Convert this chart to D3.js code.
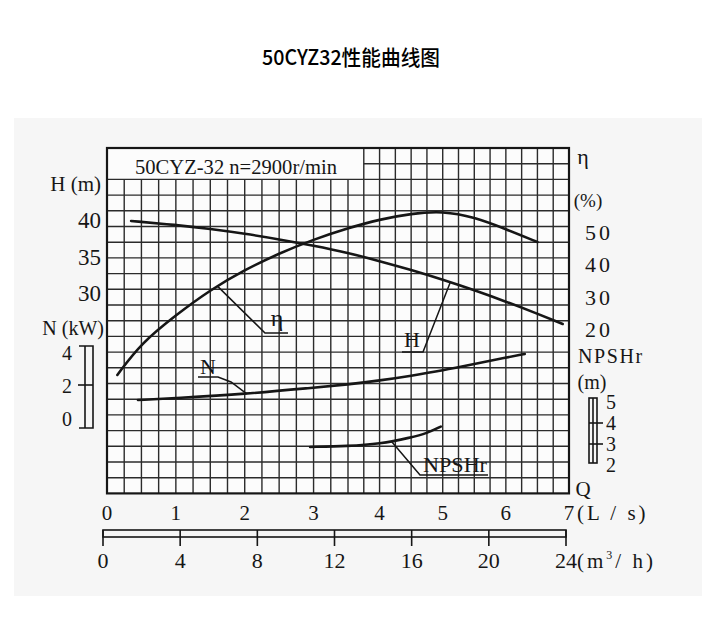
<!DOCTYPE html>
<html><head><meta charset="utf-8">
<script src="https://cdn.jsdelivr.net/npm/d3@7"></script>
<style>body{margin:0;background:#fff}svg{display:block}</style>
</head><body><svg id="c" width="718" height="630"></svg>
<script>
// ---- data ----
const flowLs = [0,1,2,3,4,5,6,7];
const flowM3h = [0,4,8,12,16,20,24];
const headTicks = [40,35,30];
const effTicks = [50,40,30,20];
const powerTicks = [4,2,0];
const npshTicks = [5,4,3,2];

const headQ = [0.35,1,1.5,2,2.5,3,3.5,4,4.5,5,5.5,6,6.5,6.9];
const headH = [39.86,39.33,38.78,38.13,37.36,36.48,35.49,34.38,33.16,31.83,30.39,28.83,27.16,25.75];

const effQ = [0.15,0.5,1,1.5,2,2.5,3,3.5,4,4.5,5,5.5,6,6.5];
const effEta = [5.8,15.7,24.3,32.1,38.3,43.4,47.7,51.2,53.9,55.7,56.5,54.6,50.9,46.9];

const powQ = [0.45,1,2,3,3.5,4,4.5,5,5.5,6,6.3];
const powN = [1.09,1.21,1.45,1.84,2.03,2.27,2.56,2.88,3.27,3.66,3.88];

const npshQ = [2.95,3.5,4,4.5,4.75,4.97];
const npshV = [2.86,2.90,3.00,3.31,3.51,3.83];

const titleText = "50CYZ32性能曲线图";
const boxText = "50CYZ-32 n=2900r/min";

// ---- layout ----
const svg = d3.select("#c");
const X0 = 107, XM = 348, X1 = 569, Y0 = 148, Y1 = 493.4;
const x = d3.scaleLinear().domain([0,3.5,7]).range([X0,XM,X1]);
const xm3 = d3.scaleLinear().domain([0,24]).range([103,566]);
const rowY = d3.scaleLinear().domain([0,22]).range([Y1,Y0]);
const yH = d3.scaleLinear().domain([30,40]).range([293,220]);
const yEta = d3.scaleLinear().domain([20,50]).range([329,232]);
const yN = d3.scaleLinear().domain([0,4]).range([418,352]);
const yNp = d3.scaleLinear().domain([2,5]).range([465,402]);
const ink = "#161616";
const serif = "'Liberation Serif','DejaVu Serif',serif";

// scanned paper backdrop
svg.append("rect").attr("x",14).attr("y",118).attr("width",688).attr("height",478).attr("fill","#f6f6f6");
svg.append("rect").attr("x",X0).attr("y",Y0).attr("width",X1-X0).attr("height",Y1-Y0).attr("fill","#fcfcfc");

// title
svg.append("text").attr("x",351).attr("y",65).attr("text-anchor","middle")
  .attr("font-family","'Noto Sans CJK SC',sans-serif").attr("font-size",21).attr("font-weight",500)
  .attr("textLength",178).attr("lengthAdjust","spacingAndGlyphs").attr("fill","#000").text(titleText);

// grid
const g = svg.append("g").attr("stroke","#2b2b2b").attr("stroke-width",1.4);
const boxCols = 15, boxRows = 20;
d3.range(1,28).forEach(i=>{
  const q = i/4;
  g.append("line").attr("x1",x(q)).attr("x2",x(q))
    .attr("y1", i < boxCols ? rowY(boxRows) : Y0).attr("y2",Y1);
});
d3.range(1,22).forEach(r=>{
  g.append("line").attr("y1",rowY(r)).attr("y2",rowY(r))
    .attr("x1", r > boxRows ? x(boxCols/4) : X0).attr("x2",X1);
});
svg.append("rect").attr("x",X0).attr("y",Y0).attr("width",X1-X0).attr("height",Y1-Y0)
  .attr("fill","none").attr("stroke",ink).attr("stroke-width",2.2);

svg.append("text").attr("x",236).attr("y",174).attr("text-anchor","middle")
  .attr("font-family",serif).attr("font-size",22).attr("textLength",202)
  .attr("lengthAdjust","spacingAndGlyphs").attr("fill",ink).text(boxText);

// curves
function drawCurve(qs, vs, ys){
  const pts = qs.map((q,i)=>[x(q), ys(vs[i])]);
  svg.append("path").attr("d", d3.line().curve(d3.curveBasis)(pts))
    .attr("fill","none").attr("stroke",ink).attr("stroke-width",2.6).attr("stroke-linecap","round");
}
drawCurve(headQ, headH, yH);
drawCurve(effQ, effEta, yEta);
drawCurve(powQ, powN, yN);
drawCurve(npshQ, npshV, yNp);

const at = (qs, vs, q) => d3.scaleLinear().domain(qs).range(vs)(q);
function leader(pts){
  svg.append("path").attr("d", d3.line()(pts)).attr("fill","none")
    .attr("stroke",ink).attr("stroke-width",1.5);
}
function label(t, lx, ly, size, anchor){
  svg.append("text").attr("x",lx).attr("y",ly).attr("text-anchor",anchor||"middle")
    .attr("font-family",serif).attr("font-size",size).attr("fill",ink).text(t);
}
// eta label
leader([[x(1.6), yEta(at(effQ,effEta,1.6))],[265,333],[288,333]]);
label("η",277,326,24);
// H label
leader([[x(5.12), yH(at(headQ,headH,5.12))],[423,352],[402,352]]);
label("H",412,347,22);
// N label
leader([[x(2.03), yN(at(powQ,powN,2.03))],[231,382],[218,377],[198,377]]);
label("N",208,374,22);
// NPSHr label
leader([[x(4.19), yNp(at(npshQ,npshV,4.19))],[420,475],[488,475]]);
svg.append("text").attr("x",455).attr("y",472).attr("text-anchor","middle")
  .attr("font-family",serif).attr("font-size",22).attr("textLength",64)
  .attr("lengthAdjust","spacingAndGlyphs").attr("fill",ink).text("NPSHr");

// left axis labels
label("H (m)",101,191,21,"end");
headTicks.forEach(v=>label(String(v),101,yH(v)+8,23,"end"));
label("N (kW)",104,335,20,"end");
powerTicks.forEach(v=>label(String(v),67,yN(v)+8,20,"middle"));
// N bracket
const nb = svg.append("g").attr("stroke",ink).attr("stroke-width",1.6).attr("fill","none");
nb.append("path").attr("d",`M79,${yN(4)-6}H93V${yN(0)+10}H79`);
nb.append("line").attr("x1",85).attr("x2",85).attr("y1",yN(4)-6).attr("y2",yN(0)+10);
nb.append("line").attr("x1",78).attr("x2",93).attr("y1",yN(2)).attr("y2",yN(2));

// right axis labels
label("η",583,164,22,"middle");
label("(%)",588,207,19,"middle");
effTicks.forEach(v=>{
  svg.append("text").attr("x",599).attr("y",yEta(v)+8).attr("text-anchor","middle")
    .attr("font-family",serif).attr("font-size",22).attr("letter-spacing",3).attr("fill",ink).text(String(v));
});
svg.append("text").attr("x",578).attr("y",363).attr("font-family",serif).attr("font-size",20)
  .attr("letter-spacing",1.6).attr("fill",ink).text("NPSHr");
label("(m)",592,389,20,"middle");
npshTicks.forEach(v=>label(String(v),611,yNp(v)+7,20,"middle"));
const pb = svg.append("g").attr("stroke",ink).attr("stroke-width",1.6).attr("fill","none");
pb.append("rect").attr("x",589).attr("y",yNp(5)-4).attr("width",8).attr("height",yNp(2)-yNp(5)+2);
pb.append("line").attr("x1",593).attr("x2",593).attr("y1",yNp(5)-4).attr("y2",yNp(2)-2);
[4,3].forEach(v=>pb.append("line").attr("x1",589).attr("x2",603).attr("y1",yNp(v)).attr("y2",yNp(v)));
label("Q",583,496,21,"middle");

// bottom axes
flowLs.forEach(v=>label(String(v),x(v),520,21,"middle"));
svg.append("text").attr("x",577).attr("y",520).attr("font-family",serif).attr("font-size",21)
  .attr("letter-spacing",3).attr("fill",ink).text("(L / s)");
const mb = svg.append("g").attr("stroke",ink).attr("stroke-width",1.6).attr("fill","none");
mb.append("rect").attr("x",xm3(0)).attr("y",530).attr("width",xm3(24)-xm3(0)).attr("height",7);
flowM3h.forEach(v=>mb.append("line").attr("x1",xm3(v)).attr("x2",xm3(v)).attr("y1",530).attr("y2",546));
flowM3h.forEach(v=>label(String(v), xm3(v), 568, 22, "middle"));
const mt = svg.append("text").attr("x",577).attr("y",568).attr("font-family",serif).attr("font-size",21)
  .attr("letter-spacing",3).attr("fill",ink);
mt.append("tspan").text("(m");
mt.append("tspan").attr("font-size",12).attr("dy",-9).text("3");
mt.append("tspan").attr("dy",9).text("/ h)");
</script></body></html>
